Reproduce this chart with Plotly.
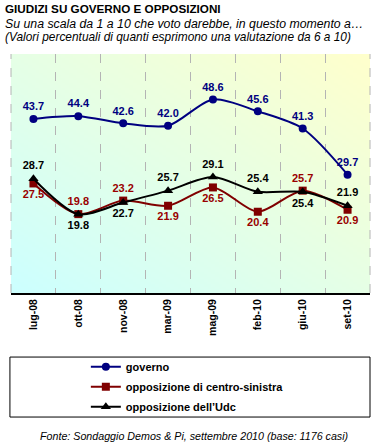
import base64, struct, zlib
import plotly.graph_objects as go

categories = ["lug-08", "ott-08", "nov-08", "mar-09", "mag-09", "feb-10", "giu-10", "set-10"]
governo = [43.7, 44.4, 42.6, 42.0, 48.6, 45.6, 41.3, 29.7]
centro_sinistra = [27.5, 19.8, 23.2, 21.9, 26.5, 20.4, 25.7, 20.9]
udc = [28.7, 19.8, 22.7, 25.7, 29.1, 25.4, 25.4, 21.9]

pos_cs = ["bottom center", "top center", "top center", "bottom center",
          "bottom center", "bottom center", "top center", "bottom center"]
pos_udc = ["top center", "bottom center", "bottom center", "top center",
           "top center", "top center", "bottom center", "top center"]


def gradient_png(w=96, h=96, c0=(204, 255, 255), c1=(255, 255, 204)):
    rows = b""
    for y in range(h):
        row = b"\x00"
        for x in range(w):
            t = (x / (w - 1) + (1 - y / (h - 1))) / 2
            px = tuple(int(round(a + (b - a) * t)) for a, b in zip(c0, c1))
            row += bytes(px)
        rows += row

    def chunk(tag, data):
        c = struct.pack(">I", len(data)) + tag + data
        return c + struct.pack(">I", zlib.crc32(tag + data) & 0xffffffff)

    png = b"\x89PNG\r\n\x1a\n"
    png += chunk(b"IHDR", struct.pack(">IIBBBBB", w, h, 8, 2, 0, 0, 0))
    png += chunk(b"IDAT", zlib.compress(rows, 9))
    png += chunk(b"IEND", b"")
    return "data:image/png;base64," + base64.b64encode(png).decode()


FONT = "Liberation Sans, Arial, sans-serif"
BLUE = "#000080"
RED = "#800000"
GRID = "#b4b4b4"

fig = go.Figure()
fig.add_trace(go.Scatter(
    x=categories, y=governo, name="governo", mode="lines+markers+text",
    legendgroup="g1",
    line=dict(color=BLUE, width=2, shape="spline", smoothing=0.8),
    marker=dict(symbol="circle", size=8, color=BLUE),
    text=[f"{v:.1f}" for v in governo], textposition="top center",
    textfont=dict(family=FONT, size=11, color=BLUE, weight="bold"),
))
fig.add_trace(go.Scatter(
    x=categories, y=centro_sinistra, name="opposizione di centro-sinistra",
    mode="lines+markers+text", legendgroup="g2",
    line=dict(color=RED, width=2, shape="spline", smoothing=0.8),
    marker=dict(symbol="square", size=8, color=RED),
    text=[f"{v:.1f}" for v in centro_sinistra], textposition=pos_cs,
    textfont=dict(family=FONT, size=11, color="#990000", weight="bold"),
))
fig.add_trace(go.Scatter(
    x=categories, y=udc, name="opposizione dell\u2019Udc", mode="lines+markers+text",
    legendgroup="g3",
    line=dict(color="black", width=2, shape="spline", smoothing=0.8),
    marker=dict(symbol="triangle-up", size=9, color="black"),
    text=[f"{v:.1f}" for v in udc], textposition=pos_udc,
    textfont=dict(family=FONT, size=11, color="black", weight="bold"),
))

fig.update_layout(
    width=388, height=447,
    margin=dict(l=11, r=18, t=54, b=154, autoexpand=False),
    paper_bgcolor="white", plot_bgcolor="rgba(0,0,0,0)",
    font=dict(family=FONT, size=11, color="black"),
    showlegend=True,
    legend=dict(x=0.2085, y=-0.2474, xanchor="left", yanchor="top",
                bgcolor="rgba(0,0,0,0)", font=dict(size=11, weight="bold"),
                itemwidth=30, tracegroupgap=1),
    images=[dict(source=gradient_png(), xref="paper", yref="paper", x=0, y=1,
                 sizex=1, sizey=1, sizing="stretch", layer="below", xanchor="left", yanchor="top")],
    xaxis=dict(type="category", range=[-0.5, 7.5], tickson="boundaries",
               showgrid=True, gridcolor=GRID, griddash="dash", gridwidth=1,
               showline=True, linecolor="black", linewidth=2, ticks="",
               tickangle=-90, tickfont=dict(size=10.5, weight="bold", color="black")),
    yaxis=dict(range=[0, 60], visible=False, showgrid=False, zeroline=False),
    shapes=[
        dict(type="rect", xref="paper", yref="paper",
             x0=-0.003, x1=1.0, y0=-0.519, y1=-0.268,
             line=dict(color="black", width=1)),
        dict(type="line", xref="paper", yref="paper", x0=0, x1=0, y0=0, y1=1,
             layer="below", line=dict(color=GRID, width=1, dash="dash")),
        dict(type="line", xref="paper", yref="paper", x0=1, x1=1, y0=0, y1=1,
             layer="below", line=dict(color=GRID, width=1, dash="dash")),
    ],
    annotations=[
        dict(text="<b>GIUDIZI SU GOVERNO E OPPOSIZIONI</b>", xref="paper", yref="paper",
             x=-8/359, y=1 + (54 - 8) / 239, xanchor="left", yanchor="middle",
             showarrow=False, font=dict(size=11.7)),
        dict(text="<i>Su una scala da 1 a 10 che voto darebbe, in questo momento a\u2026</i>",
             xref="paper", yref="paper", x=-8/359, y=1 + (54 - 24) / 239,
             xanchor="left", yanchor="middle", showarrow=False, font=dict(size=12.3)),
        dict(text="<i>(Valori percentuali di quanti esprimono una valutazione da 6 a 10)</i>",
             xref="paper", yref="paper", x=-8/359, y=1 + (54 - 37) / 239,
             xanchor="left", yanchor="middle", showarrow=False, font=dict(size=11.9)),
        dict(text="<i>Fonte: Sondaggio Demos & Pi, settembre 2010 (base: 1176 casi)</i>",
             xref="paper", yref="paper", x=(194 - 11) / 359, y=(293 - 436) / 239,
             xanchor="center", yanchor="middle", showarrow=False, font=dict(size=10.7)),
    ],
)

fig.write_html("out.html", config={"displayModeBar": False},
               post_script="document.body.style.margin='0';")
